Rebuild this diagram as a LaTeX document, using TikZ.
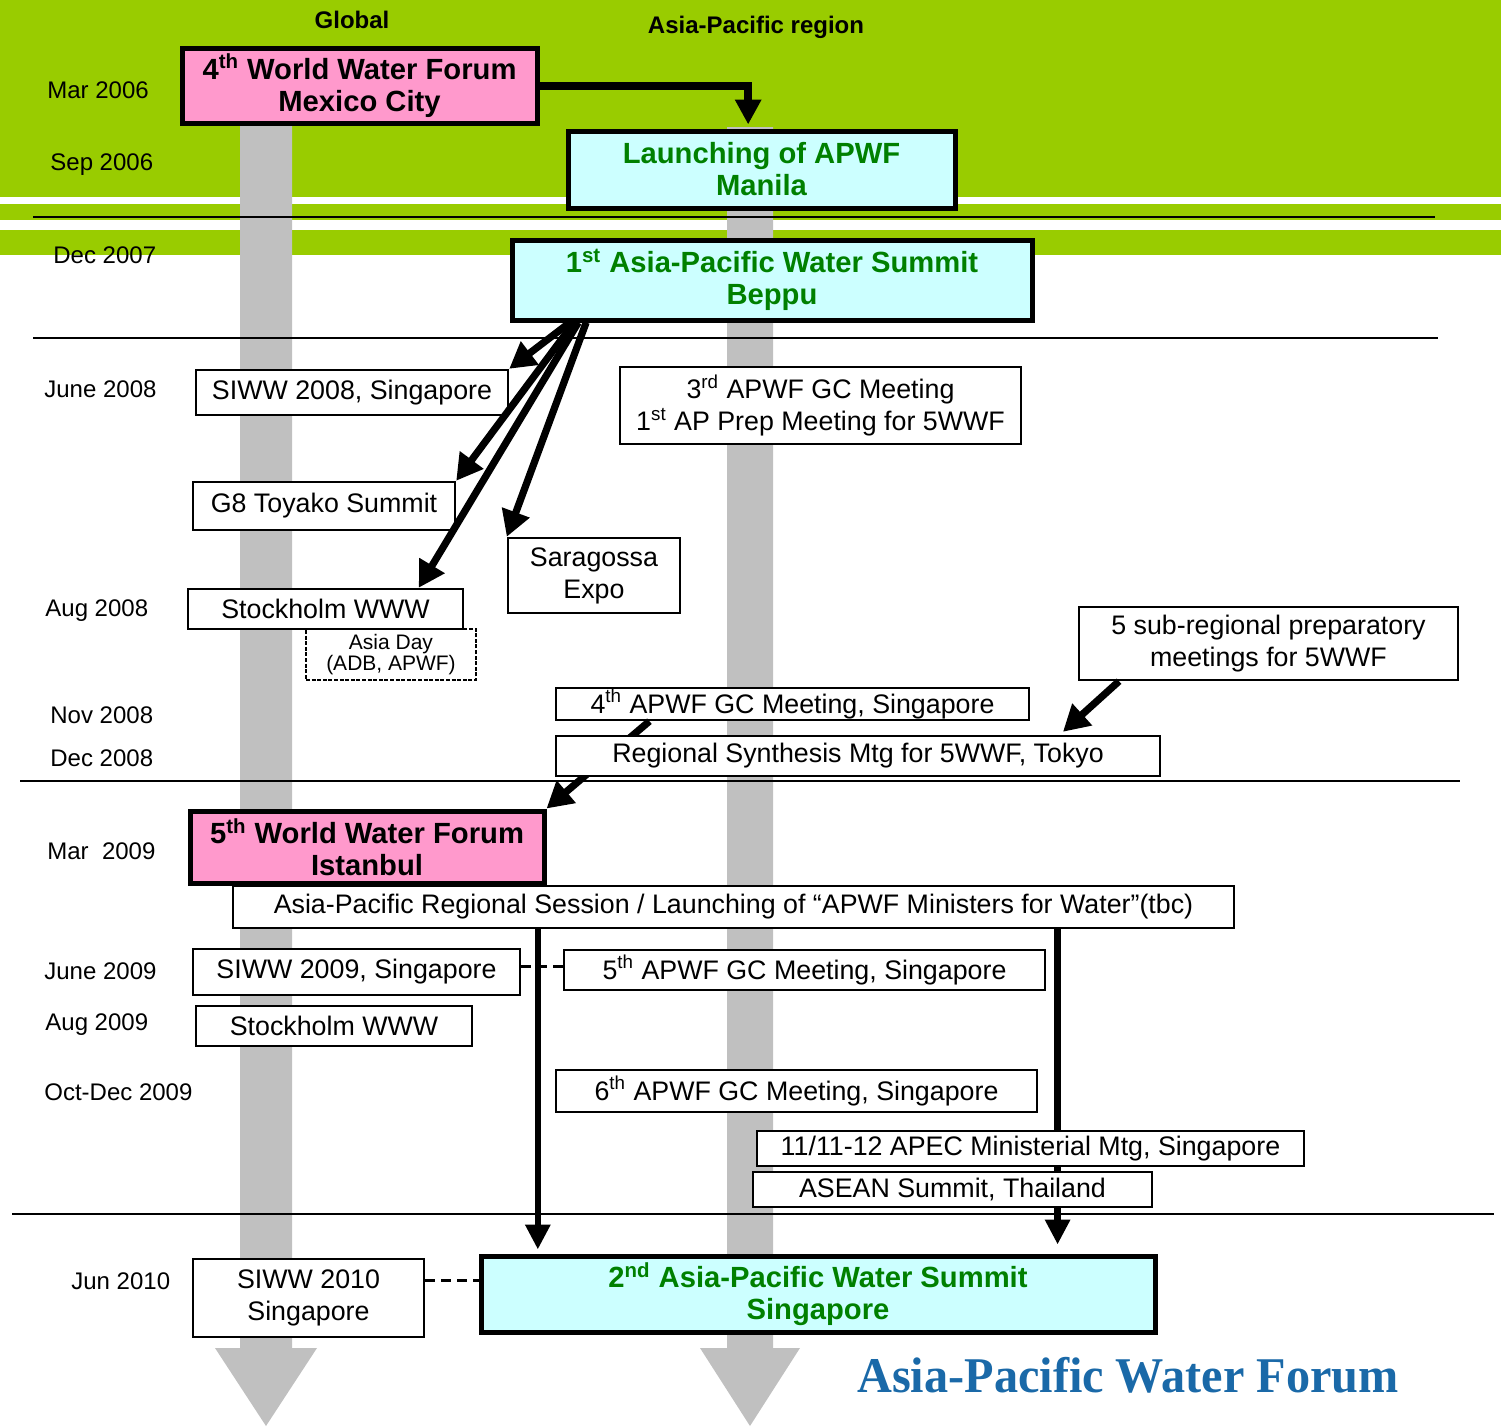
\documentclass[tikz,border=0pt]{standalone}
\usepackage{fontspec}
\usepackage{graphicx}
\setmainfont{Liberation Sans}
\newfontfamily\logofont{Liberation Serif}
\usetikzlibrary{arrows.meta,calc}
\definecolor{bandgreen}{HTML}{99CC00}
\definecolor{forumpink}{HTML}{FF99CC}
\definecolor{summitcyan}{HTML}{CCFFFF}
\definecolor{titlegreen}{HTML}{008000}
\definecolor{bargrey}{HTML}{C0C0C0}
\definecolor{logoblue}{HTML}{1A69A8}
\tikzset{
  corners/.style args={#1,#2,#3,#4}{at={({(#1+#3)/2},{(#2+#4)/2})},
    minimum width={(#3-#1)*0.5pt}, minimum height={(#4-#2)*0.5pt}},
  evbox/.style={draw, line width=1.2pt, fill=white, inner sep=0pt, align=center,
    font=\fontsize{13.4}{16}\selectfont},
  keybox/.style={draw, line width=2.5pt, inner sep=0pt, align=center,
    font=\bfseries\fontsize{14.6}{16}\selectfont},
  pinkbox/.style={keybox, fill=forumpink},
  cyanbox/.style={keybox, fill=summitcyan, text=titlegreen},
  asiabox/.style={draw, line width=0.9pt, dash pattern=on 2pt off 0.8pt, fill=white,
    inner sep=0pt, align=center, font=\fontsize{10.5}{9}\selectfont},
  datelbl/.style={anchor=base west, inner sep=0pt, font=\fontsize{12}{14}\selectfont},
  collbl/.style={anchor=base, inner sep=0pt, font=\bfseries\fontsize{12}{14}\selectfont},
  rule/.style={line width=1.3pt},
  flow/.style={line width=3.6pt, -{Triangle[length=13pt,width=14pt]}},
  vflow/.style={line width=3.2pt, -{Triangle[length=12.5pt,width=12pt]}},
  topflow/.style={line width=4pt, -{Triangle[length=12.5pt,width=12.5pt]}},
  dashlink/.style={line width=1.6pt, dash pattern=on 5pt off 3pt},
}
\begin{document}
\begin{tikzpicture}[x=0.5pt,y=-0.5pt]
\useasboundingbox (0,0) rectangle (1501,1426);
% background bands
\fill[bandgreen] (0,0) rectangle (1501,197);
\fill[bandgreen] (0,204) rectangle (1501,220);
\fill[bandgreen] (0,230) rectangle (1501,255);
% grey time bars
\fill[bargrey] (240,123) -- (292,123) -- (292,1348) -- (317,1348) -- (266,1426)
  -- (215,1348) -- (240,1348) -- cycle;
\fill[bargrey] (727,127) -- (773,127) -- (773,1348) -- (800,1348) -- (750,1426)
  -- (700,1348) -- (727,1348) -- cycle;
% horizontal rules
\draw[rule] (33,217) -- (1435,217);
\draw[rule] (33,338) -- (1438,338);
\draw[rule] (20,781) -- (1460,781);
\draw[rule] (12,1214) -- (1494,1214);
% column titles
\node[collbl] (global) at (352,28) {Global};
\node[collbl] (aspac) at (756,33) {Asia-Pacific region};
% dates
\node[datelbl] (d1) at (47,98.5) {Mar 2006};
\node[datelbl] (d2) at (50,170.5) {Sep 2006};
\node[datelbl] (d3) at (53,263.5) {Dec 2007};
\node[datelbl] (d4) at (44,397.5) {June 2008};
\node[datelbl] (d5) at (45,616.5) {Aug 2008};
\node[datelbl] (d6) at (50,723.5) {Nov 2008};
\node[datelbl] (d7) at (50,766.5) {Dec 2008};
\node[datelbl] (d8) at (47,859.5) {Mar\ \ 2009};
\node[datelbl] (d9) at (44,979.5) {June 2009};
\node[datelbl] (d10) at (45,1030.5) {Aug 2009};
\node[datelbl] (d11) at (44,1100.5) {Oct-Dec 2009};
\node[datelbl] (d12) at (71,1289.5) {Jun 2010};
% boxes
\node[pinkbox, corners={182,48,537,123}] (wwf4) {4\textsuperscript{th} World Water Forum\\Mexico City};
\node[cyanbox, corners={568,131,955,208}] (launch) {Launching of APWF\\Manila};
\node[cyanbox, corners={512,240,1032,320}] (beppu) {1\textsuperscript{st} Asia-Pacific Water Summit\\Beppu};
\node[evbox, corners={196,370,508,415}] (siww08) {SIWW 2008, Singapore};
\node[evbox, corners={620,367,1021,444}] (gc3) {3\textsuperscript{rd} APWF GC Meeting\\1\textsuperscript{st} AP Prep Meeting for 5WWF};
\node[evbox, corners={193,482,455,530}] (g8) {G8 Toyako Summit};
\node[evbox, corners={508,538,680,613}] (sarag) {Saragossa\\Expo};
\node[asiabox, corners={306,629,476,680}] (asiaday) {Asia Day\\(ADB, APWF)};
\node[evbox, corners={188,589,463,629}] (stock08) {Stockholm WWW};
\node[evbox, corners={1079,607,1458,680}] (subreg) {5 sub-regional preparatory\\meetings for 5WWF};
\node[evbox, corners={556,688,1029,720}] (gc4) {4\textsuperscript{th} APWF GC Meeting, Singapore};
\node[pinkbox, corners={190,811,544,883}] (wwf5) {5\textsuperscript{th} World Water Forum\\Istanbul};
\draw[flow] ($(gc4.south west)!0.199!(gc4.south east)$) -- (wwf5.north east);
\node[evbox, corners={556,736,1160,776}] (regsyn) {Regional Synthesis Mtg for 5WWF, Tokyo};
\draw[flow] ($(subreg.south west)!0.108!(subreg.south east)$) -- ($(regsyn.north west)!0.838!(regsyn.north east)+(0,-3)$);
\node[evbox, corners={233,886,1234,928}] (session) {Asia-Pacific Regional Session / Launching of “APWF Ministers for Water”(tbc)};
\node[evbox, corners={193,949,520,995}] (siww09) {SIWW 2009, Singapore};
\node[evbox, corners={564,950,1045,990}] (gc5) {5\textsuperscript{th} APWF GC Meeting, Singapore};
\node[evbox, corners={196,1006,472,1046}] (stock09) {Stockholm WWW};
\node[evbox, corners={556,1070,1037,1112}] (gc6) {6\textsuperscript{th} APWF GC Meeting, Singapore};
\node[evbox, corners={193,1259,424,1337}] (siww10) {SIWW 2010\\Singapore};
\node[cyanbox, corners={481,1256,1155,1332}] (summit2) {2\textsuperscript{nd} Asia-Pacific Water Summit\\Singapore};
% session arrows to 2nd summit
\coordinate (sesL) at ($(session.south west)!0.305!(session.south east)$);
\coordinate (sesR) at ($(session.south west)!0.823!(session.south east)$);
\draw[vflow, shorten >=2pt] (sesL) -- (sesL |- summit2.north);
\draw[vflow, shorten >=4.5pt] (sesR) -- (sesR |- summit2.north);
\node[evbox, corners={757,1131,1304,1166}] (apec) {11/11-12 APEC Ministerial Mtg, Singapore};
\node[evbox, corners={753,1172,1152,1207}] (asean) {ASEAN Summit, Thailand};
% dashed links
\coordinate (s09e) at ($(siww09.north east)!0.39!(siww09.south east)$);
\draw[dashlink] (s09e) -- (s09e -| gc5.west);
\coordinate (s10e) at ($(siww10.north east)!0.28!(siww10.south east)$);
\draw[dashlink] (s10e) -- (s10e -| summit2.west);
% top arrow
\coordinate (lt) at ($(launch.north west)!0.466!(launch.north east)+(0,-4)$);
\draw[topflow] (wwf4.east) -| (lt);
% Beppu arrows
\coordinate (b1) at ($(beppu.south west)!0.115!(beppu.south east)$);
\coordinate (b2) at ($(beppu.south west)!0.123!(beppu.south east)$);
\coordinate (b3) at ($(beppu.south west)!0.131!(beppu.south east)$);
\coordinate (b4) at ($(beppu.south west)!0.146!(beppu.south east)$);
\draw[flow] (b1) -- (siww08.north east);
\draw[flow] (b2) -- (g8.north east);
\draw[flow] (b3) -- ($(stock08.north west)!0.836!(stock08.north east)$);
\draw[flow] (b4) -- (sarag.north west);
% logo
\node[anchor=base, inner sep=0pt, text=logoblue] (logo) at (1128,1392)
  {\scalebox{0.965}[1]{\logofont\bfseries\fontsize{25}{28}\selectfont Asia-Pacific Water Forum}};
\end{tikzpicture}
\end{document}
